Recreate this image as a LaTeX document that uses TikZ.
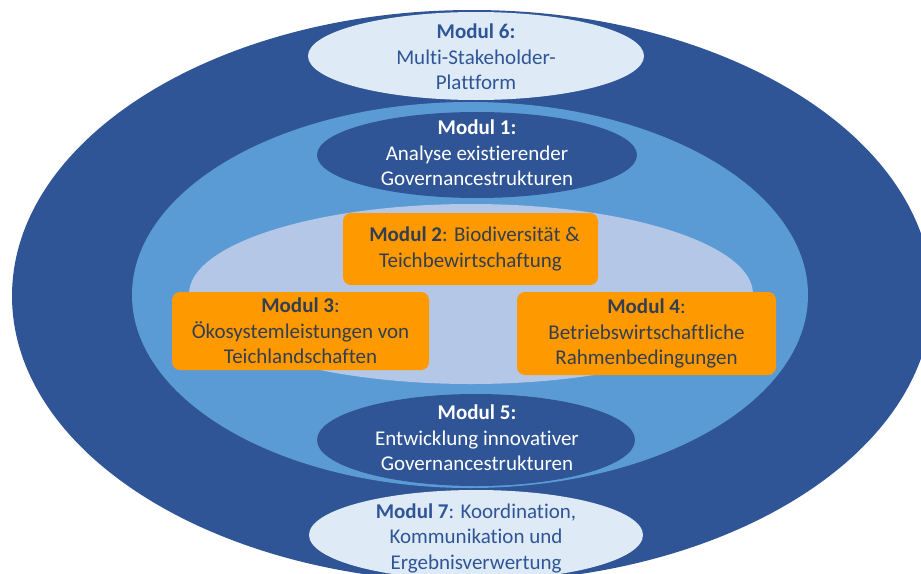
\documentclass[tikz,border=0pt]{standalone}
\usepackage{fontspec}
\setmainfont{Carlito}[Ligatures=CommonOff]
\definecolor{darkblue}{HTML}{2F5597}
\definecolor{midblue}{HTML}{5B9BD5}
\definecolor{innerblue}{HTML}{B4C7E7}
\definecolor{paleblue}{HTML}{DEEBF7}
\definecolor{orangebox}{HTML}{FF9900}
\definecolor{boxtext}{HTML}{333F50}
\begin{document}
\begin{tikzpicture}[x=1pt,y=-1pt,
  txt/.style={align=center, font=\fontsize{21}{25.5}\selectfont, inner sep=0pt},
  obox/.style={txt, fill=orangebox, rounded corners=8pt, text=boxtext},
]
\useasboundingbox (0,0) rectangle (921,573);
\clip (0,0) rectangle (921,573);
% rings
\fill[darkblue]  (472,296) ellipse [x radius=460, y radius=286];
\fill[midblue]   (470,295) ellipse [x radius=338, y radius=193];
\fill[innerblue] (471,294) ellipse [x radius=282, y radius=90];
% small ellipses
\fill[paleblue]  (476,56)  ellipse [x radius=168, y radius=44];
\fill[darkblue]  (477,155) ellipse [x radius=160, y radius=43];
\fill[darkblue]  (476,440) ellipse [x radius=159, y radius=46];
\fill[paleblue]  (476,535) ellipse [x radius=167, y radius=45];
% texts in ellipses
\node[txt, text=darkblue] (m6) at (476,57) {\textbf{Modul 6:}\\Multi-Stakeholder-\\Plattform};
\node[txt, text=white] (m1) at (477,153) {\textbf{Modul 1:}\\Analyse existierender\\Governancestrukturen};
\node[txt, text=white] (m5) at (477,438) {\textbf{Modul 5:}\\Entwicklung innovativer\\Governancestrukturen};
\node[txt, text=darkblue] (m7) at (476,538) {\textbf{Modul 7}: Koordination,\\Kommunikation und\\Ergebnisverwertung};
% orange boxes
\node[obox, minimum width=255pt, minimum height=72pt] (m2) at (470.5,249)
  {\hspace*{8pt}\textbf{Modul 2}: Biodiversität \&\\Teichbewirtschaftung};
\node[obox, minimum width=257pt, minimum height=78pt] (m3) at (300.5,331)
  {\textbf{Modul 3}:\\Ökosystemleistungen von\\Teichlandschaften};
\node[obox, minimum width=259pt, minimum height=83pt] (m4) at (646.5,333.5)
  {\textbf{Modul 4}:\\Betriebswirtschaftliche\\Rahmenbedingungen};
\end{tikzpicture}
\end{document}
